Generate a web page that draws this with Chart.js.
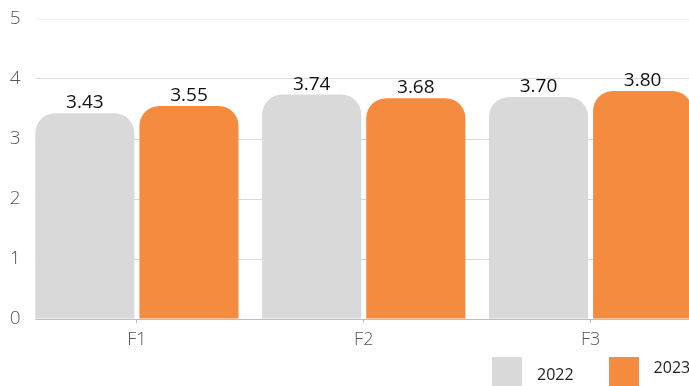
<!DOCTYPE html>
<html>
<head>
<meta charset="utf-8">
<script src="https://cdn.jsdelivr.net/npm/chart.js@4.4.0/dist/chart.umd.min.js"></script>
<style>
  body { margin: 0; background: #fff; }
  #wrap { position: relative; width: 689px; height: 386px; overflow: hidden; }
  #chart { display: block; }
  #legend { position: absolute; top: 357px; left: 492px; display: flex; font-family: 'Open Sans', sans-serif; font-size: 16px; color: #222; }
  .item { display: flex; align-items: center; margin-right: 35px; }
  .box { width: 30px; height: 30px; margin-right: 15px; }
  .item span { position: relative; top: 2px; }
  .item:nth-child(2) span { top: -5px; }
</style>
</head>
<body>
<div id="wrap">
  <canvas id="chart" width="704" height="386"></canvas>
  <div id="legend"></div>
</div>
<script>
const categories = ['F1', 'F2', 'F3'];
const years = ['2022', '2023'];
const values2022 = [3.43, 3.74, 3.70];
const values2023 = [3.55, 3.68, 3.80];
const colors = ['#d9d9d9', '#f58b3e'];

// value labels on top of each bar
const valueLabels = {
    id: 'valueLabels',
    afterDatasetsDraw(chart) {
        const ctx = chart.ctx;
        ctx.save();
        ctx.font = '19px "Open Sans"';
        ctx.fillStyle = '#111';
        ctx.textAlign = 'center';
        ctx.textBaseline = 'alphabetic';
        chart.data.datasets.forEach((ds, i) => {
            chart.getDatasetMeta(i).data.forEach((bar, j) => {
                ctx.fillText(ds.data[j].toFixed(2), bar.x, bar.y - 5);
            });
        });
        ctx.restore();
    },
};

// gridlines start where the first bar starts
const trimGrid = {
    id: 'trimGrid',
    beforeDatasetsDraw(chart) {
        const first = chart.getDatasetMeta(0).data[0];
        const area = chart.chartArea;
        const left = first.x - first.width / 2;
        const ctx = chart.ctx;
        ctx.save();
        ctx.fillStyle = '#fff';
        ctx.fillRect(area.left, area.top - 2, left - area.left, area.height + 4);
        ctx.restore();
    },
};

const chart = new Chart(document.getElementById('chart'), {
    type: 'bar',
    data: {
        labels: categories,
        datasets: [
            {
                label: years[0],
                data: values2022,
                backgroundColor: colors[0],
            },
            {
                label: years[1],
                data: values2023,
                backgroundColor: colors[1],
            },
        ],
    },
    options: {
        responsive: false,
        animation: false,
        barPercentage: 0.952,
        categoryPercentage: 0.918,
        datasets: {
            bar: { borderRadius: 20, borderSkipped: 'start' },
        },
        layout: { padding: { top: 19, bottom: 37, left: 0, right: 0 } },
        scales: {
            x: {
                grid: { drawOnChartArea: false, offset: false, tickLength: 4, color: '#bdbdbd' },
                border: { color: '#bdbdbd' },
                ticks: { padding: 6, color: '#555', font: { family: 'Open Sans', size: 18, weight: '300' } },
                afterFit(scale) { scale.height = 30; },
            },
            y: {
                min: 0,
                max: 5,
                border: { display: false },
                grid: {
                    drawTicks: false,
                    color: (c) => (c.tick && c.tick.value === 5 ? '#eef2f7' : '#d9d9d9'),
                },
                ticks: { stepSize: 1, padding: 3, color: '#555', font: { family: 'Open Sans', size: 19, weight: '300' } },
                afterFit(scale) { scale.width = 23.5; },
            },
        },
        plugins: {
            legend: { display: false },
            tooltip: { enabled: false },
        },
    },
    plugins: [trimGrid, valueLabels],
});

// legend built from the datasets
const legend = document.getElementById('legend');
chart.data.datasets.forEach((ds) => {
    const item = document.createElement('div');
    item.className = 'item';
    const box = document.createElement('div');
    box.className = 'box';
    box.style.background = ds.backgroundColor;
    const text = document.createElement('span');
    text.textContent = ds.label;
    item.appendChild(box);
    item.appendChild(text);
    legend.appendChild(item);
});
</script>
</body>
</html>
